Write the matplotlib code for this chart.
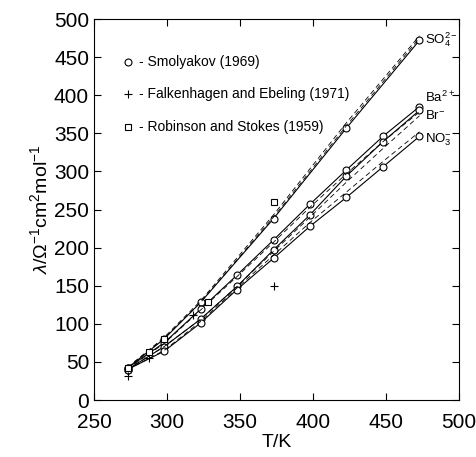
import numpy as np
import matplotlib.pyplot as plt

plt.rcParams['font.family'] = ['Liberation Sans', 'DejaVu Sans']
plt.rcParams['mathtext.fontset'] = 'custom'
plt.rcParams['mathtext.rm'] = 'Liberation Sans'
plt.rcParams['mathtext.it'] = 'Liberation Sans:italic'

# Temperaturas (K)
T = [273, 298, 323, 348, 373, 398, 423, 448, 473]
T_so4 = [273, 298, 323, 373, 423, 473]

# Smolyakov (1969) - circulos + linea continua
so4 = [42, 80, 128, 238, 357, 472]
ba = [42, 75, 119, 164, 210, 257, 302, 346, 385]
br = [40, 70, 106, 149, 197, 243, 294, 339, 380]
no3 = [40, 64, 101, 145, 186, 228, 266, 306, 346]

# curvas teoricas (discontinuas)
so4_d1 = [42, 81, 128, 240, 360, 475]
so4_d2 = [43, 82, 130, 243, 364, 478]
ba_d1 = [41, 74, 118, 162, 207, 253, 297, 339, 378]
br_d1 = [40, 70, 106, 149, 195, 240, 286, 330, 373]
no3_d1 = [40, 65, 103, 147, 190, 233, 273, 313, 352]

# Falkenhagen and Ebeling (1971)
T_fe = [273, 288, 318, 373]
fe = [32, 55, 111, 150]

# Robinson and Stokes (1959)
T_rs = [273, 288, 298, 328, 373]
rs = [42, 63, 80, 128, 260]

fig = plt.figure(figsize=(4.77, 4.57), dpi=100)
ax = fig.add_axes([0.197, 0.1247, 0.765, 0.8337])

lw = 0.8
ax.plot(T_so4, so4, '-o', color='k', lw=lw, mfc='white', mec='k', ms=5, mew=0.8)
for y in [ba, br, no3]:
    ax.plot(T, y, '-o', color='k', lw=lw, mfc='white', mec='k', ms=5, mew=0.8)

ax.plot(T_so4, so4_d1, '--', color='k', lw=0.6, dashes=(6, 4))
ax.plot(T_so4, so4_d2, '--', color='k', lw=0.6, dashes=(6, 4))
for y in [ba_d1, br_d1, no3_d1]:
    ax.plot(T, y, '--', color='k', lw=0.6, dashes=(6, 4))

ax.plot(T_fe, fe, '+', color='k', ms=6, mew=0.8)
ax.plot(T_rs, rs, 's', color='k', mfc='white', ms=5, mew=0.8)

# etiquetas de los iones
ax.text(477, 473, r'SO$_4^{2-}$', fontsize=9.5, va='center')
ax.text(477, 397, r'Ba$^{2+}$', fontsize=9.5, va='center')
ax.text(477, 373, r'Br$^{-}$', fontsize=9.5, va='center')
ax.text(477, 341, r'NO$_3^{-}$', fontsize=9.5, va='center')

# leyenda manual
leg_y = [444, 401, 358]
ax.plot(273, leg_y[0], 'o', color='k', mfc='white', ms=5, mew=0.8)
ax.plot(273, leg_y[1], '+', color='k', ms=6, mew=0.8)
ax.plot(273, leg_y[2], 's', color='k', mfc='white', ms=5, mew=0.8)
ax.text(281, leg_y[0], '- Smolyakov (1969)', fontsize=10, va='center')
ax.text(281, leg_y[1], '- Falkenhagen and Ebeling (1971)', fontsize=10, va='center')
ax.text(281, leg_y[2], '- Robinson and Stokes (1959)', fontsize=10, va='center')

ax.set_xlim(250, 500)
ax.set_ylim(0, 500)
ax.set_xticks(np.arange(250, 501, 50))
ax.set_yticks(np.arange(0, 501, 50))
ax.tick_params(direction='in', top=True, right=True, labelsize=15, length=5)
ax.tick_params(axis='x', pad=9)
ax.set_xlabel('T/K', fontsize=14, labelpad=2)
ax.set_ylabel(r'$\lambda/\Omega^{-1}$cm$^2$mol$^{-1}$', fontsize=14, labelpad=2)

plt.savefig('out.png', dpi=100)
